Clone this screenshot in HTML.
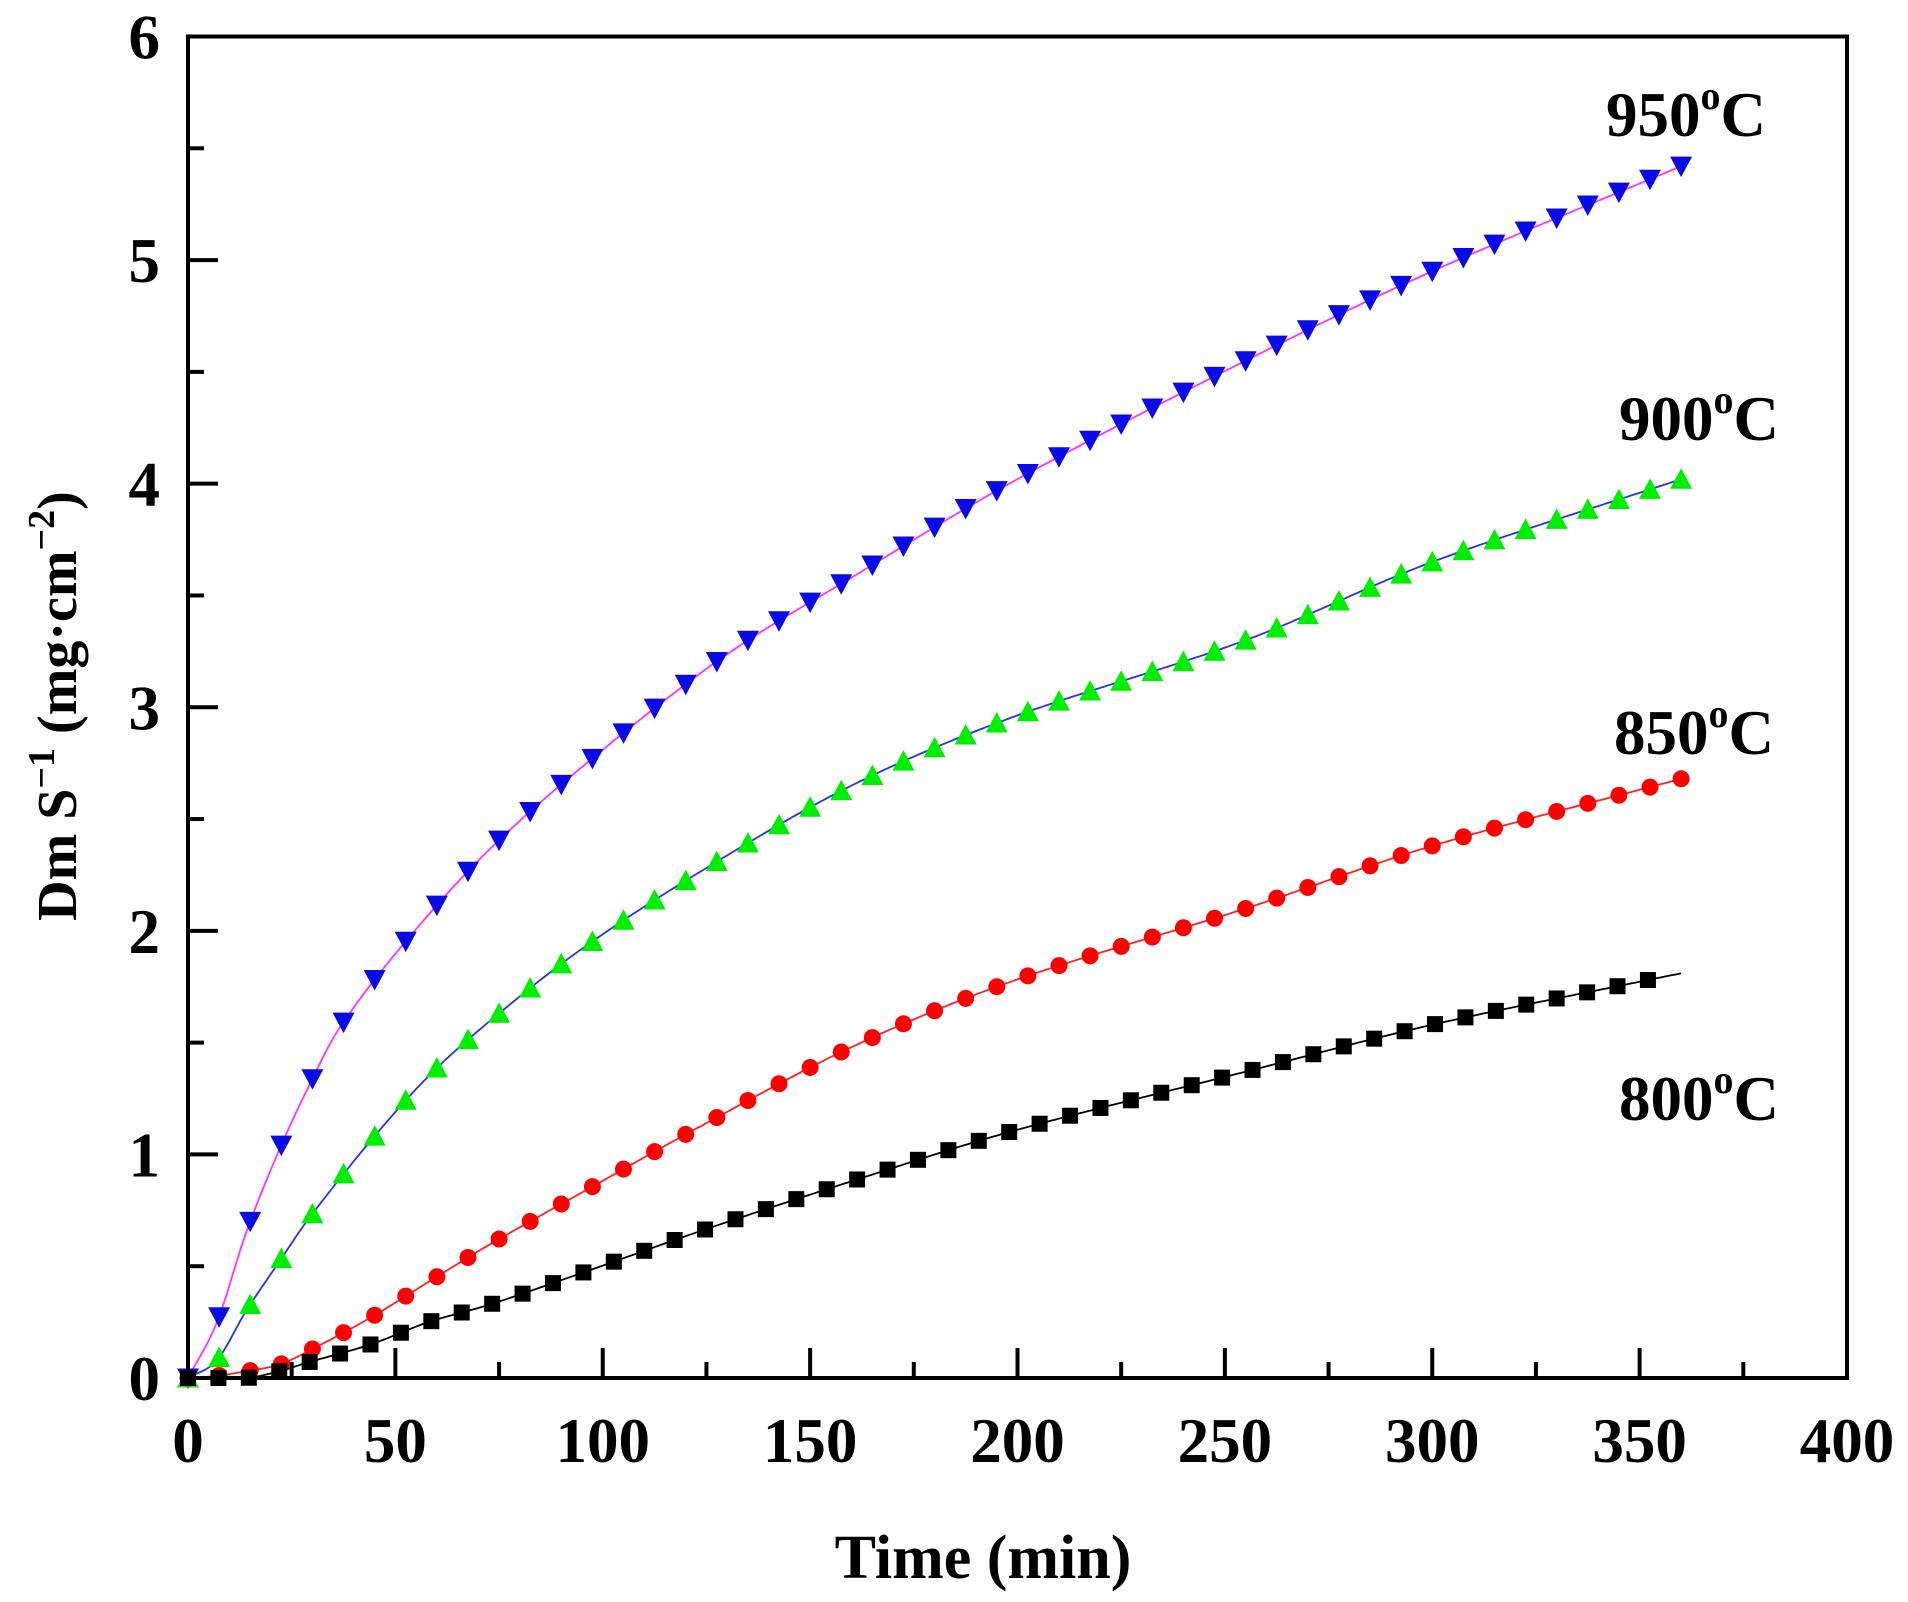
<!DOCTYPE html>
<html><head><meta charset="utf-8"><style>
html,body{margin:0;padding:0;background:#fff;}
svg{display:block;}
text{font-family:"Liberation Serif",serif;font-weight:bold;fill:#000;}
</style></head><body>
<svg id="s" width="1908" height="1602" xmlns="http://www.w3.org/2000/svg"></svg>
<script>
const s=document.getElementById('s');
const X=t=>188+t*(1847-188)/400, Y=v=>1378-v*(1378-36.5)/6;
let h='';
const S=[
 {k:[[0,0],[7,0.25],[14,0.65],[22,1.02],[29,1.3],[36,1.55],[51,1.92],[73,2.37],[102,2.84],[131,3.25],[160,3.58],[198,4.0],[255,4.55],[300,4.95],[360,5.42]],lc:'#ff33ff',mc:'#0a0ae6',m:'dtri',end:360},
 {k:[[0,0],[7,0.08],[14,0.3],[22,0.52],[29,0.71],[44,1.06],[58,1.35],[73,1.6],[95,1.92],[124,2.27],[160,2.65],[198,2.95],[255,3.3],[300,3.65],[360,4.02]],lc:'#2233ee',mc:'#00ee00',m:'tri',end:360},
 {k:[[0,0],[7,0.01],[14,0.03],[22,0.06],[29,0.12],[44,0.27],[58,0.43],[73,0.6],[95,0.83],[124,1.13],[160,1.48],[198,1.77],[255,2.1],[300,2.38],[360,2.68]],lc:'#ff2222',mc:'#ff0000',m:'circ',end:360},
 {k:[[0,0],[14,0.0],[22,0.03],[29,0.07],[44,0.15],[58,0.25],[73,0.33],[95,0.47],[124,0.66],[160,0.88],[198,1.1],[255,1.37],[300,1.58],[352,1.78],[360,1.81]],lc:'#000',mc:'#000',m:'sq',end:352}
];
function f(k,t){
 for(let i=0;i<k.length-1;i++){
  if(t<=k[i+1][0]){
   const p0=k[Math.max(0,i-1)],p1=k[i],p2=k[i+1],p3=k[Math.min(k.length-1,i+2)];
   const u=(t-p1[0])/(p2[0]-p1[0]);
   const m1=(p2[1]-p0[1])/(p2[0]-p0[0]||1)*(p2[0]-p1[0]);
   const m2=(p3[1]-p1[1])/(p3[0]-p1[0]||1)*(p2[0]-p1[0]);
   const u2=u*u,u3=u2*u;
   return (2*u3-3*u2+1)*p1[1]+(u3-2*u2+u)*m1+(-2*u3+3*u2)*p2[1]+(u3-u2)*m2;
  }
 }
 return k[k.length-1][1];
}
for(const se of S){
 let d='';
 for(let t=0;t<=360;t+=1){d+=(t?'L':'M')+X(t).toFixed(1)+','+Y(Math.max(0,f(se.k,t))).toFixed(1);}
 h+=`<path d="${d}" fill="none" stroke="${se.lc}" stroke-width="1.8"/>`;
 for(let t=0;t<=se.end+0.1;t+=se.end/48){
  const x=X(t),y=Y(Math.max(0,f(se.k,t)));
  if(se.m=='dtri')h+=`<polygon points="${x-11},${y-9.5} ${x+11},${y-9.5} ${x},${y+11}" fill="${se.mc}"/>`;
  else if(se.m=='tri')h+=`<polygon points="${x-11},${y+9.5} ${x+11},${y+9.5} ${x},${y-11}" fill="${se.mc}"/>`;
  else if(se.m=='circ')h+=`<circle cx="${x}" cy="${y}" r="8.5" fill="${se.mc}"/>`;
  else h+=`<rect x="${x-8}" y="${y-8}" width="16" height="16" fill="${se.mc}"/>`;
 }
}
h+=`<rect x="188" y="36.5" width="1659" height="1341.5" fill="none" stroke="#000" stroke-width="4"/>`;
for(let i=0;i<=16;i++){const t=i*25,x=X(t),L=i%2?16:30;
 h+=`<line x1="${x}" y1="1378" x2="${x}" y2="${1378-L}" stroke="#000" stroke-width="4"/>`;
 if(i%2==0)h+=`<text x="${x}" y="1462" font-size="63" text-anchor="middle">${t}</text>`;}
for(let i=0;i<=12;i++){const v=i/2,y=Y(v),L=i%2?16:30;
 h+=`<line x1="188" y1="${y}" x2="${188+L}" y2="${y}" stroke="#000" stroke-width="4"/>`;
 if(i%2==0)h+=`<text x="160" y="${y+22}" font-size="63" text-anchor="end">${v}</text>`;}
h+=`<text x="983" y="1578" font-size="62" text-anchor="middle">Time (min)</text>`;
h+=`<text transform="translate(76,706) rotate(-90)" font-size="56" text-anchor="middle">Dm S<tspan dy="-22" font-size="38">−1</tspan><tspan dy="22"> (mg·cm</tspan><tspan dy="-22" font-size="38">−2</tspan><tspan dy="22">)</tspan></text>`;
const lab=[[1606,136,'950'],[1619,440,'900'],[1614,754,'850'],[1619,1120,'800']];
for(const [x,y,t] of lab)h+=`<text x="${x}" y="${y}" font-size="63">${t}<tspan dy="-27" font-size="40">o</tspan><tspan dy="27">C</tspan></text>`;
s.innerHTML=h;
</script>
</body></html>
